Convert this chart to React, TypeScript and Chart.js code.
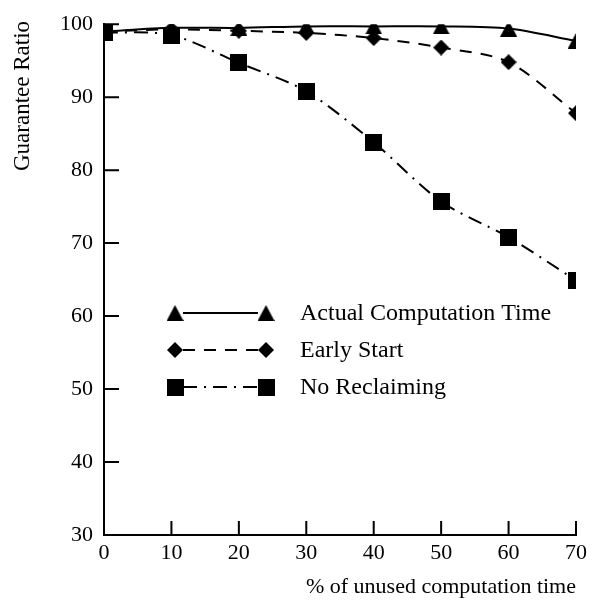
import React, { useEffect, useRef } from "react";
import { Chart, registerables } from "chart.js";

Chart.register(...registerables);

const xValues = [0, 10, 20, 30, 40, 50, 60, 70];
const actualTime = [99.0, 99.5, 99.5, 99.7, 99.7, 99.7, 99.4, 97.7];
const earlyStart = [99.0, 99.3, 99.1, 98.8, 98.1, 96.8, 94.8, 87.8];
const noReclaiming = [98.9, 98.5, 94.7, 90.8, 83.8, 75.7, 70.8, 64.9];
const seriesNames = ["Actual Computation Time", "Early Start", "No Reclaiming"];
const xTitle = "% of unused computation time";
const yTitle = "Guarantee Ratio";

const FONT = "'Liberation Serif', 'DejaVu Serif', serif";

const toPoints = (ys: number[]) => xValues.map((x, i) => ({ x, y: ys[i] }));

function makeMarker(kind: string, w: number, h: number): HTMLCanvasElement {
  const c = document.createElement("canvas");
  c.width = w;
  c.height = h;
  const g = c.getContext("2d")!;
  g.fillStyle = "#000";
  g.beginPath();
  if (kind === "triangle") {
    g.moveTo(w / 2, 0);
    g.lineTo(w, h);
    g.lineTo(0, h);
  } else if (kind === "diamond") {
    g.moveTo(w / 2, 0);
    g.lineTo(w, h / 2);
    g.lineTo(w / 2, h);
    g.lineTo(0, h / 2);
  } else {
    g.rect(0, 0, w, h);
  }
  g.closePath();
  g.fill();
  return c;
}

export default function App() {
  const ref = useRef<HTMLCanvasElement | null>(null);

  useEffect(() => {
    if (!ref.current) return;
    const styles = [
      { marker: makeMarker("triangle", 17, 16), dash: [] as number[] },
      { marker: makeMarker("diamond", 16, 16), dash: [12, 9] },
      { marker: makeMarker("square", 17, 17), dash: [14, 7, 2, 7] },
    ];
    const series = [actualTime, earlyStart, noReclaiming];

    const decorations = {
      id: "decorations",
      afterDraw(chart: any) {
        const ctx = chart.ctx as CanvasRenderingContext2D;
        const xs = chart.scales.x;
        const ys = chart.scales.y;
        ctx.save();
        ctx.strokeStyle = "#000";
        ctx.lineWidth = 2;
        // inward ticks
        ctx.beginPath();
        xs.ticks.forEach((t: any) => {
          const px = xs.getPixelForValue(t.value);
          ctx.moveTo(px, xs.top);
          ctx.lineTo(px, xs.top - 14);
        });
        ys.ticks.forEach((t: any) => {
          const py = ys.getPixelForValue(t.value);
          ctx.moveTo(ys.right, py);
          ctx.lineTo(ys.right + 15, py);
        });
        ctx.stroke();

        // axis titles
        ctx.fillStyle = "#000";
        ctx.font = `22px ${FONT}`;
        ctx.textAlign = "right";
        ctx.textBaseline = "middle";
        ctx.fillText(xTitle, xs.right, 587);
        ctx.save();
        ctx.translate(23, 96);
        ctx.rotate(-Math.PI / 2);
        ctx.textAlign = "center";
        ctx.font = `23px ${FONT}`;
        ctx.fillText(yTitle, 0, 0);
        ctx.restore();

        // legend
        const rows = [313, 350, 387];
        const x1 = 175;
        const x2 = 266;
        rows.forEach((ry, i) => {
          const st = styles[i];
          ctx.beginPath();
          ctx.setLineDash(st.dash);
          ctx.lineWidth = 2;
          ctx.moveTo(x1 + 8, ry);
          ctx.lineTo(x2 - 8, ry);
          ctx.stroke();
          ctx.setLineDash([]);
          [x1, x2].forEach((mx) => {
            const m = st.marker;
            ctx.drawImage(m, mx - m.width / 2, ry - m.height / 2);
          });
          ctx.fillStyle = "#000";
          ctx.textAlign = "left";
          ctx.textBaseline = "middle";
          ctx.font = `24px ${FONT}`;
          ctx.fillText(seriesNames[i], 300, ry + 1);
        });
        ctx.restore();
      },
    };

    const chart = new Chart(ref.current, {
      type: "line",
      data: {
        datasets: series.map((ys, i) => ({
          label: seriesNames[i],
          data: toPoints(ys),
          borderColor: "#000",
          backgroundColor: "#000",
          borderWidth: 2,
          borderDash: styles[i].dash,
          pointStyle: styles[i].marker as any,
          pointRadius: 8,
          pointBackgroundColor: "#000",
          pointBorderWidth: 0,
          tension: 0.3,
          fill: false,
          clip: 0,
        })),
      },
      options: {
        animation: false,
        responsive: false,
        maintainAspectRatio: false,
        layout: { padding: { top: 18, right: 13, left: 0, bottom: 0 } },
        plugins: {
          legend: { display: false },
          tooltip: { enabled: false },
          title: { display: false },
        },
        scales: {
          x: {
            type: "linear",
            min: 0,
            max: 70,
            ticks: {
              stepSize: 10,
              color: "#000",
              font: { family: FONT, size: 22 },
              padding: 5,
              maxRotation: 0,
            },
            grid: { display: false, drawTicks: false },
            border: { display: true, color: "#000", width: 2 },
            afterFit: (s: any) => {
              s.height = 67;
            },
          },
          y: {
            type: "linear",
            min: 30,
            max: 100,
            ticks: {
              stepSize: 10,
              color: "#000",
              font: { family: FONT, size: 22 },
              padding: 11,
            },
            grid: { display: false, drawTicks: false },
            border: { display: true, color: "#000", width: 2 },
            afterFit: (s: any) => {
              s.width = 104;
            },
          },
        },
      },
      plugins: [decorations],
    });
    return () => chart.destroy();
  }, []);

  return (
    <div style={{ position: "fixed", left: 0, top: 0, width: 592, height: 602, background: "#fff" }}>
      <canvas ref={ref} width={592} height={602} style={{ width: 592, height: 602 }} />
    </div>
  );
}
